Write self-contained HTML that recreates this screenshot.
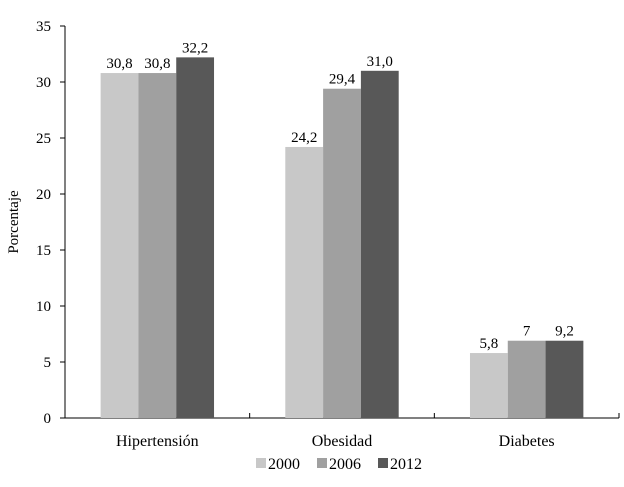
<!DOCTYPE html>
<html><head><meta charset="utf-8"><style>
body{margin:0;background:#fff;}
svg{display:block;font-family:"Liberation Serif",serif;}
</style></head><body>
<svg id="chart" width="624" height="487"></svg>
<script>
const categories=["Hipertensión","Obesidad","Diabetes"];
const seriesNames=["2000","2006","2012"];
const values2000=[30.8,24.2,5.8];
const values2006=[30.8,29.4,6.9];
const values2012=[32.2,31.0,6.9];
const labels2000=["30,8","24,2","5,8"];
const labels2006=["30,8","29,4","7"];
const labels2012=["32,2","31,0","9,2"];
const yTicks=[0,5,10,15,20,25,30,35];
const colors=["#c8c8c8","#a0a0a0","#585858"];
const svg=document.getElementById('chart');
const NS="http://www.w3.org/2000/svg";
const x0=65,x1=619,yBase=418,yTop=26,yMax=35;
const y=v=>yBase-(v/yMax)*(yBase-yTop);
const band=(x1-x0)/categories.length;
function mk(tag,attrs,txt){const e=document.createElementNS(NS,tag);for(const k in attrs)e.setAttribute(k,attrs[k]);if(txt!==undefined)e.textContent=txt;svg.appendChild(e);return e;}
let e=mk('line',{x1:x0,y1:yTop,x2:x0,y2:yBase,stroke:'#000','stroke-width':1});


e=mk('line',{x1:x0,y1:yBase,x2:x1,y2:yBase,stroke:'#000','stroke-width':1});


yTicks.forEach(t=>{
  const l=mk('line',{x1:x0-5,y1:y(t),x2:x0,y2:y(t),stroke:'#000'});
  
  
  const tx=mk('text',{x:x0-14,y:y(t)+5,'text-anchor':'end','font-size':15},String(t));
  
  
});
for(let i=1;i<=categories.length;i++){
  const l=mk('line',{x1:x0+band*i,y1:yBase,x2:x0+band*i,y2:yBase-5,stroke:'#000'});
  
  
}
e=mk('text',{x:0,y:0,transform:'translate(18,222) rotate(-90)','text-anchor':'middle','font-size':15},'Porcentaje');


const series=[values2000,values2006,values2012];
const labs=[labels2000,labels2006,labels2012];
const barW=37.8;
categories.forEach((c,i)=>{
  const cx=x0+band*(i+0.5);
  series.forEach((s,j)=>{
    const bx=cx-barW*1.5+barW*j;
    const r=mk('rect',{x:bx,y:y(s[i]),width:barW,height:yBase-y(s[i]),fill:colors[j]});
    
    
    const t=mk('text',{x:bx+barW/2,y:y(s[i])-5,'text-anchor':'middle','font-size':15},labs[j][i]);
    
    
  });
  const t=mk('text',{x:cx,y:446,'text-anchor':'middle','font-size':16},c);
  
  
});
const legX=[256,317,378];
seriesNames.forEach((n,j)=>{
  const r=mk('rect',{x:legX[j],y:458,width:10,height:10,fill:colors[j]});
  
  
  const t=mk('text',{x:legX[j]+12,y:469,'font-size':16},n);
  
  
});
</script>
</body></html>
